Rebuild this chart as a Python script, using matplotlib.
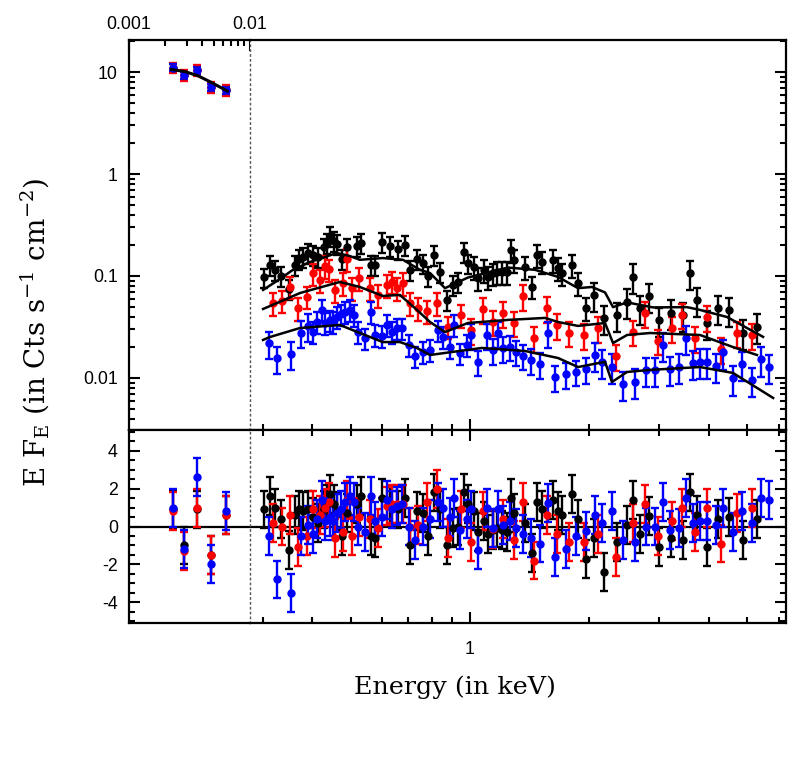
import matplotlib
matplotlib.use("Agg")
import matplotlib.pyplot as plt
from matplotlib.ticker import FixedLocator, FixedFormatter, NullFormatter, MultipleLocator, NullLocator

plt.rcParams["font.family"] = "Liberation Sans"
plt.rcParams["mathtext.fontset"] = "dejavuserif"

# ---- UV / optical monitor points (keV, flux) ----
uv_energy = [0.00232, 0.00286, 0.00363, 0.00473, 0.00630]
uv_flux_black = [11.0, 9.35, 10.45, 7.08, 6.66]
uv_flux_red = [11.0, 9.35, 10.45, 7.08, 6.66]
uv_flux_blue = [11.0, 9.35, 10.45, 7.08, 6.66]
uv_err_black = [0.09, 0.09, 0.09, 0.09, 0.09]
uv_err_red = [0.12, 0.12, 0.12, 0.12, 0.12]
uv_err_blue = [0.08, 0.08, 0.08, 0.08, 0.08]
uv_res_black = [0.9, -1.0, 0.9, -1.5, 0.6]
uv_res_red = [0.8, -1.3, 1.0, -1.5, 0.6]
uv_res_blue = [1.0, -1.2, 2.6, -2.0, 0.8]
uv_model_e = [0.00224, 0.0029, 0.0037, 0.0047, 0.0065]
uv_model_f = [10.6, 10.1, 9.2, 8.0, 6.5]

# ---- X-ray points, black ----
black_e = [0.302, 0.313, 0.322, 0.334, 0.349, 0.362, 0.371, 0.380, 0.391, 0.402,
           0.414, 0.428, 0.437, 0.444, 0.454, 0.463, 0.475, 0.490, 0.520, 0.532,
           0.562, 0.576, 0.599, 0.628, 0.659, 0.686, 0.706, 0.734, 0.763, 0.784,
           0.813, 0.840, 0.873, 0.908, 0.934, 0.967, 0.990, 1.025, 1.049, 1.087,
           1.112, 1.145, 1.168, 1.202, 1.237, 1.269, 1.293, 1.376, 1.431, 1.473,
           1.516, 1.621, 1.670, 1.703, 1.805, 1.875, 1.958, 2.058, 2.177, 2.343,
           2.490, 2.580, 2.683, 2.832, 2.998, 3.203, 3.436, 3.586, 3.725, 3.952,
           4.227, 4.486, 4.876, 5.283]
black_f = [0.097, 0.128, 0.115, 0.100, 0.0745, 0.128, 0.146, 0.155, 0.167, 0.161,
           0.153, 0.191, 0.212, 0.246, 0.222, 0.206, 0.146, 0.191, 0.197, 0.212,
           0.128, 0.128, 0.217, 0.197, 0.182, 0.201, 0.115, 0.146, 0.133, 0.100,
           0.161, 0.110, 0.0582, 0.0816, 0.0879, 0.173, 0.133, 0.123, 0.095, 0.115,
           0.098, 0.106, 0.110, 0.110, 0.110, 0.180, 0.143, 0.123, 0.0785, 0.161,
           0.138, 0.143, 0.119, 0.106, 0.128, 0.0848, 0.0483, 0.0651, 0.0385, 0.0415,
           0.056, 0.0984, 0.0483, 0.0637, 0.037, 0.0437, 0.0415, 0.106, 0.0582, 0.0343,
           0.0483, 0.0464, 0.0278, 0.0318]
black_err = [0.22, 0.22, 0.22, 0.22, 0.22, 0.22, 0.22, 0.22, 0.22, 0.22,
             0.22, 0.22, 0.22, 0.22, 0.22, 0.22, 0.22, 0.22, 0.22, 0.22,
             0.22, 0.22, 0.22, 0.22, 0.22, 0.22, 0.22, 0.22, 0.22, 0.22,
             0.22, 0.22, 0.22, 0.22, 0.22, 0.22, 0.22, 0.25, 0.25, 0.25,
             0.25, 0.25, 0.25, 0.25, 0.25, 0.25, 0.25, 0.25, 0.25, 0.25,
             0.25, 0.25, 0.25, 0.25, 0.25, 0.25, 0.25, 0.32, 0.32, 0.32,
             0.32, 0.32, 0.32, 0.32, 0.32, 0.32, 0.32, 0.32, 0.32, 0.32,
             0.32, 0.32, 0.32, 0.32]
black_res = [0.9, 1.6, 1.0, 0.4, -1.25, 0.6, 0.9, 0.8, 0.9, 0.5,
             0.2, 0.9, 1.2, 1.7, 1.2, 0.8, -0.5, 0.7, 1.2, 1.6,
             -0.5, -0.6, 1.5, 1.1, 0.9, 1.5, -1.0, 0.8, 0.7, -0.5,
             1.8, 0.9, -1.0, -0.1, 0.0, 1.8, 1.2, 0.8, -0.3, 0.3,
             -0.4, -0.2, -0.1, -0.2, -0.3, 1.5, 0.7, 0.2, -1.4, 1.3,
             0.9, 1.4, 0.8, 0.6, 1.7, 0.4, -1.7, -0.6, -2.4, -0.8,
             0.1, 1.4, -0.4, 0.55, -1.1, -0.6, -0.7, 1.8, 0.6, -1.1,
             0.4, 0.5, -0.7, 0.4]

# ---- X-ray points, red ----
red_e = [0.318, 0.335, 0.352, 0.368, 0.388, 0.401, 0.419, 0.431, 0.442, 0.457,
         0.478, 0.490, 0.503, 0.526, 0.560, 0.587, 0.617, 0.635, 0.654, 0.679,
         0.706, 0.741, 0.780, 0.824, 0.882, 0.949, 1.006, 1.080, 1.145, 1.213,
         1.293, 1.363, 1.453, 1.561, 1.654, 1.777, 1.942, 2.099, 2.334, 2.581,
         2.762, 2.984, 3.226, 3.419, 3.692, 3.953, 4.287, 4.721, 5.132]
red_f = [0.054, 0.0573, 0.0785, 0.0483, 0.0627, 0.106, 0.0914, 0.125, 0.116, 0.0729,
         0.0848, 0.146, 0.0757, 0.095, 0.0757, 0.0651, 0.0816, 0.0879, 0.0757, 0.0848,
         0.054, 0.0483, 0.0454, 0.054, 0.0318, 0.0415, 0.0295, 0.0471, 0.0356, 0.0431,
         0.0348, 0.0637, 0.0245, 0.0483, 0.0331, 0.0278, 0.0264, 0.0307, 0.0164, 0.0284,
         0.0431, 0.0232, 0.0307, 0.0415, 0.0245, 0.0394, 0.0191, 0.0274, 0.0264]
red_err = [0.25, 0.25, 0.25, 0.25, 0.25, 0.25, 0.25, 0.25, 0.25, 0.25,
           0.25, 0.25, 0.25, 0.25, 0.25, 0.25, 0.25, 0.25, 0.25, 0.25,
           0.25, 0.25, 0.25, 0.25, 0.25, 0.25, 0.28, 0.28, 0.28, 0.28,
           0.28, 0.28, 0.28, 0.28, 0.28, 0.28, 0.28, 0.28, 0.28, 0.28,
           0.28, 0.28, 0.28, 0.28, 0.28, 0.28, 0.28, 0.28, 0.28]
red_res = [0.2, 0.0, 0.6, -1.1, -0.5, 0.9, 0.6, 1.0, 1.3, -0.6,
           -0.3, 1.4, -0.5, 0.5, 0.4, -0.1, 1.1, 1.2, 1.2, 1.2,
           0.0, 0.1, 1.3, 2.0, -0.6, 0.9, -0.8, 0.8, -0.15, 0.4,
           -0.7, 1.3, -1.8, 0.6, -0.4, -0.8, -0.8, -0.4, -1.6, 0.2,
           1.2, -0.5, 0.3, 1.0, -0.3, 1.0, -0.9, 0.7, 1.0]

# ---- X-ray points, blue ----
blue_e = [0.312, 0.327, 0.353, 0.376, 0.391, 0.401, 0.411, 0.423, 0.431, 0.444,
          0.452, 0.463, 0.472, 0.484, 0.498, 0.510, 0.523, 0.544, 0.562, 0.576,
          0.599, 0.617, 0.635, 0.654, 0.673, 0.703, 0.727, 0.763, 0.793, 0.832,
          0.856, 0.890, 0.913, 0.944, 0.981, 1.006, 1.049, 1.102, 1.145, 1.174,
          1.213, 1.261, 1.304, 1.363, 1.425, 1.502, 1.570, 1.638, 1.743, 1.847,
          1.957, 2.067, 2.148, 2.277, 2.427, 2.606, 2.778, 2.928, 3.062, 3.193,
          3.372, 3.504, 3.643, 3.80, 3.966, 4.172, 4.352, 4.597, 4.843, 5.132,
          5.408, 5.686]
blue_f = [0.0218, 0.0156, 0.0172, 0.0278, 0.0323, 0.0284, 0.0356, 0.0464, 0.0348, 0.0370,
          0.0356, 0.0400, 0.0422, 0.0447, 0.0464, 0.0415, 0.0284, 0.0245, 0.0447, 0.0264,
          0.0258, 0.0331, 0.0284, 0.0307, 0.0307, 0.0211, 0.0164, 0.0181, 0.0188, 0.0295,
          0.0254, 0.0202, 0.0331, 0.0175, 0.0211, 0.0264, 0.0145, 0.0264, 0.0188, 0.0274,
          0.0195, 0.0202, 0.0181, 0.0166, 0.0150, 0.0137, 0.0274, 0.0102, 0.0109, 0.0115,
          0.0122, 0.0168, 0.0143, 0.0129, 0.00873, 0.0092, 0.0120, 0.0120, 0.0211, 0.0122,
          0.0129, 0.0245, 0.0140, 0.0145, 0.0145, 0.0131, 0.0178, 0.0099, 0.0137, 0.00956,
          0.0152, 0.0127]
blue_err = [0.30, 0.30, 0.30, 0.30, 0.30, 0.24, 0.24, 0.24, 0.24, 0.24,
            0.24, 0.24, 0.24, 0.24, 0.24, 0.24, 0.24, 0.24, 0.24, 0.24,
            0.24, 0.24, 0.24, 0.24, 0.24, 0.24, 0.24, 0.24, 0.24, 0.24,
            0.24, 0.24, 0.24, 0.24, 0.24, 0.28, 0.28, 0.28, 0.28, 0.28,
            0.28, 0.28, 0.28, 0.28, 0.28, 0.28, 0.28, 0.28, 0.28, 0.28,
            0.28, 0.32, 0.32, 0.32, 0.32, 0.32, 0.32, 0.32, 0.32, 0.32,
            0.32, 0.32, 0.32, 0.32, 0.32, 0.32, 0.32, 0.32, 0.32, 0.32,
            0.32, 0.32]
blue_res = [-0.5, -2.8, -3.5, -0.5, 0.1, -0.4, 0.4, 1.4, 0.3, 0.5,
            0.3, 0.7, 0.9, 1.3, 1.6, 1.3, 0.0, -0.3, 1.6, 0.3,
            0.5, 1.4, 0.9, 1.1, 1.2, 0.0, -0.7, 0.0, 0.4, 1.3,
            1.0, 0.5, 1.5, -0.2, 0.4, 0.9, -1.25, 1.0, -0.1, 0.9,
            0.1, 0.3, -0.1, -0.4, -0.6, -0.9, 1.25, -1.6, -1.2, -0.5,
            -0.25, 0.6, 0.2, 0.8, -0.7, -0.8, 0.0, 0.0, 1.3, -0.2,
            -0.1, 1.5, 0.2, 0.3, 0.3, 0.1, 1.0, -0.3, 0.8, 0.2,
            1.5, 1.4]

# ---- model curves (black lines) ----
black_model_e = [0.301, 0.332, 0.358, 0.395, 0.462, 0.498, 0.528, 0.603, 0.678, 0.748,
                 0.793, 0.865, 0.988, 1.247, 1.458, 1.667, 1.872, 2.03, 2.19, 2.294,
                 2.489, 2.893, 3.525, 3.80, 4.446, 5.48]
black_model_f = [0.0730, 0.0935, 0.115, 0.137, 0.168, 0.157, 0.144, 0.150, 0.144, 0.115,
                 0.107, 0.076, 0.0965, 0.121, 0.115, 0.098, 0.076, 0.078, 0.069, 0.0495,
                 0.0551, 0.0492, 0.0495, 0.0465, 0.0396, 0.0253]
red_model_e = [0.301, 0.332, 0.373, 0.470, 0.528, 0.603, 0.666, 0.735, 0.793, 0.865,
               0.988, 1.247, 1.546, 1.667, 1.872, 2.19, 2.294, 2.489, 2.843, 3.80,
               4.603, 5.29]
red_model_f = [0.0475, 0.0559, 0.0681, 0.0874, 0.078, 0.0637, 0.0652, 0.0465, 0.0354, 0.0282,
               0.0346, 0.0371, 0.0388, 0.0354, 0.0324, 0.0346, 0.0220, 0.0264, 0.0276, 0.0264,
               0.0201, 0.0168]
blue_model_e = [0.301, 0.313, 0.373, 0.470, 0.528, 0.603, 0.666, 0.735, 0.793, 0.865,
                1.072, 1.376, 1.667, 1.872, 2.19, 2.28, 2.489, 2.843, 3.80, 4.603,
                5.81]
blue_model_f = [0.0236, 0.0252, 0.0309, 0.0331, 0.0276, 0.0225, 0.0225, 0.0197, 0.0168, 0.0176,
                0.0197, 0.0184, 0.0157, 0.0128, 0.0144, 0.00914, 0.01146, 0.0120, 0.0128, 0.0112,
                0.00637]

# ---- figure layout (pixel frame of the original) ----
W, H = 806, 758
fig = plt.figure(figsize=(W / 100, H / 100), dpi=100)


def frame(x0, y0, x1, y1):
    return [x0 / W, 1 - y1 / H, (x1 - x0) / W, (y1 - y0) / H]


ax_uv = fig.add_axes(frame(129, 40, 250, 430))
ax_x = fig.add_axes(frame(250, 40, 786, 430))
ax_uvr = fig.add_axes(frame(129, 430, 250, 623))
ax_xr = fig.add_axes(frame(250, 430, 786, 623))

sets = [
    ("black", uv_flux_black, uv_err_black, uv_res_black, black_e, black_f, black_err, black_res),
    ("red", uv_flux_red, uv_err_red, uv_res_red, red_e, red_f, red_err, red_res),
    ("blue", uv_flux_blue, uv_err_blue, uv_res_blue, blue_e, blue_f, blue_err, blue_res),
]

eb_kw = dict(fmt="o", ms=5.0, capsize=3.0, elinewidth=1.7, capthick=1.7)

for col, uvf, uve, uvr, xe, xf, xerr, xres in sets:
    uv_yerr = [f * e for f, e in zip(uvf, uve)]
    ax_uv.errorbar(uv_energy, uvf, yerr=uv_yerr, color=col, mec=col, **eb_kw)
    ax_uvr.errorbar(uv_energy, uvr, yerr=1.0, color=col, mec=col, **eb_kw)
    x_yerr = [f * e for f, e in zip(xf, xerr)]
    ax_x.errorbar(xe, xf, yerr=x_yerr, color=col, mec=col, **eb_kw)
    ax_xr.errorbar(xe, xres, yerr=1.0, color=col, mec=col, **eb_kw)

# model curves on top
ax_uv.plot(uv_model_e, uv_model_f, color="black", lw=2.2, zorder=5)
for me, mf in [(black_model_e, black_model_f), (red_model_e, red_model_f),
               (blue_model_e, blue_model_f)]:
    ax_x.plot(me, mf, color="black", lw=1.8, zorder=5)

for ax in (ax_uvr, ax_xr):
    ax.axhline(0, color="black", lw=1.6, zorder=1)

# scales and limits
for ax in (ax_uv, ax_uvr):
    ax.set_xscale("log")
    ax.set_xlim(0.001, 0.01)
for ax in (ax_x, ax_xr):
    ax.set_xscale("log")
    ax.set_xlim(0.279, 6.26)
for ax in (ax_uv, ax_x):
    ax.set_yscale("log")
    ax.set_ylim(0.00309, 20.6)
for ax in (ax_uvr, ax_xr):
    ax.set_ylim(-5.1, 5.1)

# spines: hide the join, draw it as a dotted divider
for ax in (ax_uv, ax_x, ax_uvr, ax_xr):
    for s in ax.spines.values():
        s.set_linewidth(1.6)
for ax in (ax_uv, ax_uvr):
    ax.spines["right"].set_visible(False)
for ax in (ax_x, ax_xr):
    ax.spines["left"].set_linestyle((0, (1, 2.5)))
    ax.spines["left"].set_linewidth(1.0)
    ax.spines["left"].set_color("#555555")

tick_kw = dict(which="both", direction="in", width=1.5, labelsize=12.8)
for ax in (ax_uv, ax_x, ax_uvr, ax_xr):
    ax.tick_params(**tick_kw)
    ax.tick_params(which="major", length=8)
    ax.tick_params(which="minor", length=4.3)

# top-left: energy ticks on top, flux labels on left
ax_uv.xaxis.set_major_locator(FixedLocator([0.001, 0.01]))
ax_uv.xaxis.set_major_formatter(FixedFormatter(["0.001", "0.01"]))
ax_uv.xaxis.set_minor_locator(FixedLocator([0.002, 0.003, 0.004, 0.005, 0.006, 0.007, 0.008, 0.009]))
ax_uv.xaxis.set_minor_formatter(NullFormatter())
ax_uv.tick_params(axis="x", which="both", top=True, bottom=False, labeltop=True,
                  labelbottom=False, pad=5)
flux_major = [0.01, 0.1, 1, 10]
ax_uv.yaxis.set_major_locator(FixedLocator(flux_major))
ax_uv.yaxis.set_major_formatter(FixedFormatter(["0.01", "0.1", "1", "10"]))
ax_uv.yaxis.set_minor_formatter(NullFormatter())
ax_uv.tick_params(axis="y", which="both", left=True, right=False, pad=8)

# top-right: ticks only, no labels
e_minor = [0.3, 0.4, 0.5, 0.6, 0.7, 0.8, 0.9, 2, 3, 4, 5, 6]
ax_x.xaxis.set_major_locator(FixedLocator([1]))
ax_x.xaxis.set_minor_locator(FixedLocator(e_minor))
ax_x.xaxis.set_major_formatter(NullFormatter())
ax_x.xaxis.set_minor_formatter(NullFormatter())
ax_x.tick_params(axis="x", which="both", top=False, bottom=True, labelbottom=False)
ax_x.yaxis.set_major_locator(FixedLocator(flux_major))
ax_x.yaxis.set_major_formatter(NullFormatter())
ax_x.yaxis.set_minor_formatter(NullFormatter())
ax_x.tick_params(axis="y", which="both", left=False, right=True, labelleft=False)

# residual panels
res_ticks = [-4, -2, 0, 2, 4]
ax_uvr.xaxis.set_major_locator(NullLocator())
ax_uvr.xaxis.set_minor_locator(NullLocator())
ax_uvr.yaxis.set_major_locator(FixedLocator(res_ticks))
ax_uvr.yaxis.set_major_formatter(FixedFormatter(["-4", "-2", "0", "2", "4"]))
ax_uvr.yaxis.set_minor_locator(MultipleLocator(0.5))
ax_uvr.tick_params(axis="y", which="both", left=True, right=False, pad=8)

ax_xr.xaxis.set_major_locator(FixedLocator([1]))
ax_xr.xaxis.set_major_formatter(FixedFormatter(["1"]))
ax_xr.xaxis.set_minor_locator(FixedLocator(e_minor))
ax_xr.xaxis.set_minor_formatter(NullFormatter())
ax_xr.tick_params(axis="x", which="both", top=True, bottom=True, pad=13)
ax_xr.yaxis.set_major_locator(FixedLocator(res_ticks))
ax_xr.yaxis.set_major_formatter(NullFormatter())
ax_xr.yaxis.set_minor_locator(MultipleLocator(0.5))
ax_xr.tick_params(axis="y", which="both", left=False, right=True, labelleft=False)

# axis titles
fig.text(35 / W, 1 - 332 / H, r"E F$_{\rm E}$ (in Cts s$^{-1}$ cm$^{-2}$)",
         rotation=90, ha="center", va="center", fontsize=20, family="DejaVu Serif")
fig.text(455 / W, 1 - 694 / H, "Energy (in keV)", ha="center", va="baseline",
         fontsize=18.3, family="DejaVu Serif")

fig.savefig("out.png", dpi=100)
